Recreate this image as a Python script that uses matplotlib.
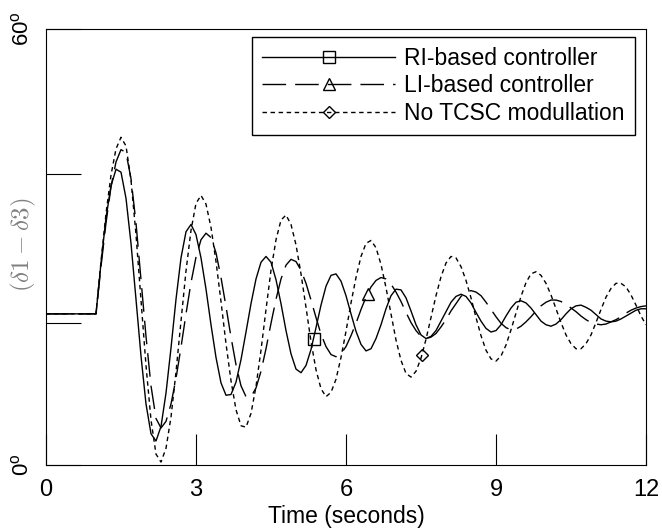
import matplotlib
matplotlib.use("Agg")
import matplotlib.pyplot as plt
from matplotlib.lines import Line2D
import numpy as np

plt.rcParams['font.family'] = ['Liberation Sans', 'DejaVu Sans']
plt.rcParams['mathtext.fontset'] = 'custom'
plt.rcParams['mathtext.rm'] = 'Liberation Sans'
plt.rcParams['mathtext.it'] = 'Liberation Sans:italic'
plt.rcParams['mathtext.bf'] = 'Liberation Sans:bold'

# ---- data ----
time_s = np.linspace(0.0, 12.0, 121)

ri_based = [
    20.8, 20.8, 20.8, 20.8, 20.8, 20.8, 20.8, 20.8, 20.8, 20.8, 20.8,
    27.8, 34.0, 38.4, 40.7, 40.3, 36.7, 30.5, 22.8, 15.0, 8.4,
    4.3, 3.3, 5.3, 9.9, 16.1, 22.8, 28.5, 32.1, 33.1, 31.7,
    28.5, 24.2, 19.3, 14.8, 11.3, 9.6, 9.7, 11.4, 14.5, 18.3,
    22.2, 25.6, 27.9, 28.7, 27.9, 25.5, 22.2, 18.5, 15.3, 13.2,
    12.7, 13.7, 15.9, 18.9, 22.0, 24.6, 26.1, 26.3, 25.3, 23.3,
    20.8, 18.4, 16.6, 15.7, 16.0, 17.4, 19.3, 21.5, 23.3, 24.2,
    24.1, 23.0, 21.2, 19.3, 17.9, 17.4, 17.7, 18.5, 19.8, 21.1,
    22.4, 23.2, 23.5, 23.2, 22.3, 21.0, 19.8, 18.8, 18.3, 18.5,
    19.3, 20.5, 21.6, 22.4, 22.6, 22.3, 21.6, 20.7, 19.8, 19.3,
    19.1, 19.4, 20.0, 20.8, 21.5, 21.9, 22.0, 21.7, 21.3, 20.7,
    20.1, 19.8, 19.7, 19.8, 20.1, 20.5, 20.9, 21.3, 21.5, 21.5,
]

li_based = [
    20.8, 20.8, 20.8, 20.8, 20.8, 20.8, 20.8, 20.8, 20.8, 20.8, 20.8,
    27.3, 33.3, 38.3, 41.7, 43.4, 43.0, 39.4, 33.3, 25.5, 17.7,
    10.9, 6.4, 5.1, 6.0, 8.4, 11.9, 16.2, 20.8, 25.1, 28.6,
    31.0, 31.9, 31.3, 29.2, 25.8, 21.8, 17.6, 13.8, 10.9, 9.4,
    9.4, 10.6, 12.9, 16.0, 19.5, 22.8, 25.6, 27.5, 28.3, 28.0,
    26.8, 25.0, 22.7, 20.3, 18.0, 16.3, 15.2, 14.9, 15.3, 16.3,
    17.8, 19.5, 21.4, 23.1, 24.5, 25.4, 25.8, 25.6, 24.9, 23.8,
    22.5, 21.0, 19.6, 18.5, 17.7, 17.4, 17.6, 18.1, 19.0, 20.0,
    21.2, 22.2, 23.2, 23.8, 24.0, 23.8, 23.3, 22.4, 21.4, 20.4,
    19.5, 18.9, 18.6, 18.7, 19.1, 19.7, 20.4, 21.2, 21.9, 22.4,
    22.7, 22.7, 22.5, 22.1, 21.6, 21.1, 20.5, 20.0, 19.6, 19.4,
    19.3, 19.4, 19.7, 20.0, 20.4, 20.9, 21.3, 21.6, 21.8, 21.9,
]

no_tcsc = [
    20.8, 20.8, 20.8, 20.8, 20.8, 20.8, 20.8, 20.8, 20.8, 20.8, 20.8,
    28.0, 34.6, 39.9, 43.5, 45.1, 43.9, 39.2, 31.7, 22.7, 13.7,
    6.2, 1.5, 0.4, 2.3, 6.6, 12.8, 19.8, 26.7, 32.3, 36.0,
    37.1, 35.9, 32.7, 28.0, 22.5, 16.7, 11.6, 7.6, 5.4, 5.2,
    7.1, 10.8, 15.8, 21.4, 26.8, 31.0, 33.7, 34.4, 33.1, 30.3,
    26.3, 21.7, 17.0, 13.1, 10.5, 9.4, 10.0, 11.8, 14.8, 18.4,
    22.3, 25.8, 28.7, 30.5, 30.9, 29.9, 27.6, 24.4, 20.8, 17.2,
    14.4, 12.6, 12.1, 12.9, 14.7, 17.3, 20.3, 23.3, 25.9, 27.8,
    28.7, 28.5, 27.3, 25.4, 23.0, 20.3, 17.8, 15.8, 14.6, 14.3,
    15.0, 16.5, 18.6, 20.9, 23.2, 25.1, 26.3, 26.6, 26.1, 25.0,
    23.4, 21.5, 19.6, 17.9, 16.7, 16.0, 16.0, 16.7, 17.9, 19.6,
    21.4, 23.1, 24.3, 25.0, 25.0, 24.5, 23.4, 22.0, 20.5, 19.3,
]

# single marker on each curve
ri_marker_t, ri_marker_y = [5.35], [17.4]
li_marker_t, li_marker_y = [6.43], [23.5]
no_marker_t, no_marker_y = [7.51], [15.1]

series_labels = ['RI-based controller', 'LI-based controller', 'No TCSC modullation']
x_ticks = [0, 3, 6, 9, 12]
x_tick_labels = ['0', '3', '6', '9', '12']
y_ticks = [0, 19.5, 40, 60]
y_tick_labels = [r'0$^{\rm o}$', '', '', r'60$^{\rm o}$']

# ---- figure ----
fig = plt.figure(figsize=(6.62, 5.31), dpi=100)
ax = fig.add_axes([46/662, 66/531, 600/662, 436/531])

lw = 1.0
ls_li = (0, (17, 6.5))
ls_no = (0, (3.2, 2.6))

ax.plot(time_s, ri_based, color='black', lw=lw, ls='-')
ax.plot(time_s, li_based, color='black', lw=lw, ls=ls_li)
ax.plot(time_s, no_tcsc, color='black', lw=lw, ls=ls_no)

mk = dict(ls='none', mfc='none', mec='black', mew=1.0)
ax.plot(ri_marker_t, ri_marker_y, marker='s', ms=8.5, **mk)
ax.plot(li_marker_t, li_marker_y, marker='^', ms=8.5, **mk)
ax.plot(no_marker_t, no_marker_y, marker='D', ms=6.5, **mk)

ax.set_xlim(0, 12)
ax.set_ylim(0, 60)

ax.set_xticks(x_ticks)
ax.set_xticklabels(x_tick_labels)
ax.tick_params(axis='x', direction='in', length=22.3, width=0.8, pad=10,
               labelsize=17, color='black')
ax.set_yticks(y_ticks)
ax.set_yticklabels(y_tick_labels)
ax.tick_params(axis='y', direction='in', length=25.2, width=0.8, pad=9,
               labelsize=16, labelrotation=90, color='black')
for lab in ax.get_yticklabels():
    lab.set_verticalalignment('center')

for sp in ax.spines.values():
    sp.set_linewidth(0.8)
    sp.set_color('black')

ax.set_xlabel('Time (seconds)', fontsize=16.5, labelpad=3)
ax.set_ylabel(r'$(\delta1-\delta3)$', fontsize=18, color='#808080',
              math_fontfamily='cm')
ax.yaxis.set_label_coords(-0.0133, 0.505)

handles = [
    Line2D([], [], color='black', lw=lw, ls='-', marker='s', ms=8.5,
           mfc='none', mec='black', mew=1.0),
    Line2D([], [], color='black', lw=lw, ls=ls_li, marker='^', ms=8.5,
           mfc='none', mec='black', mew=1.0),
    Line2D([], [], color='black', lw=lw, ls=ls_no, marker='D', ms=6.5,
           mfc='none', mec='black', mew=1.0),
]
leg = ax.legend(handles, series_labels, loc='upper right',
                bbox_to_anchor=(0.9817, 0.9823), borderaxespad=0,
                fontsize=16.5, handlelength=5.8, handletextpad=0.4,
                borderpad=0.44, labelspacing=0.2, numpoints=1,
                frameon=True, fancybox=False, framealpha=1,
                edgecolor='black')
leg.get_frame().set_linewidth(1.0)

fig.savefig('out.png', dpi=100)
